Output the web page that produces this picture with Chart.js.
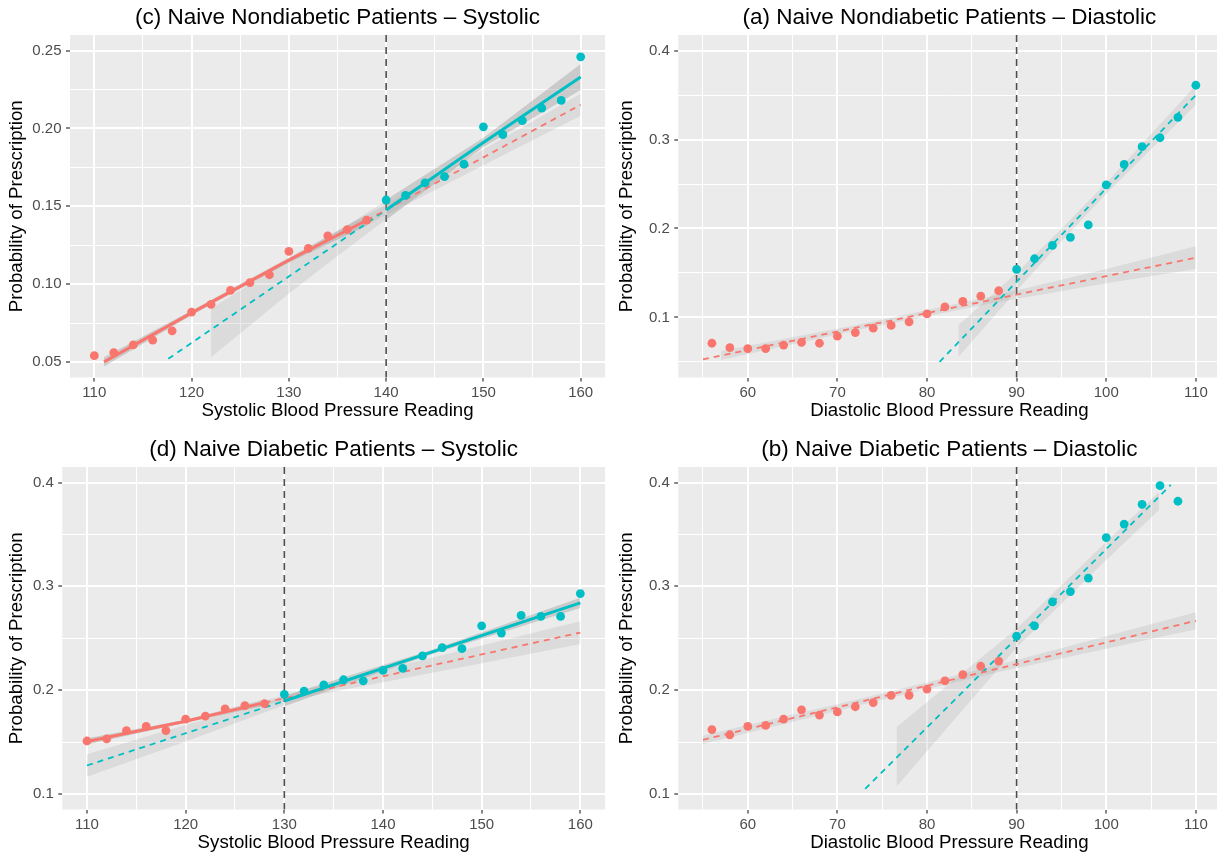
<!DOCTYPE html>
<html>
<head>
<meta charset="utf-8">
<script src="https://cdn.jsdelivr.net/npm/chart.js@4.4.1/dist/chart.umd.min.js"></script>
<style>
  html, body { margin: 0; padding: 0; background: #fff; }
  body { width: 1217px; height: 856px; overflow: hidden; position: relative; }
  canvas { position: absolute; }
</style>
</head>
<body>
<canvas id="chartC"></canvas>
<canvas id="chartA"></canvas>
<canvas id="chartD"></canvas>
<canvas id="chartB"></canvas>
<script>
// ---------- (c) Naive Nondiabetic Patients - Systolic ----------
const cTitle = '(c) Naive Nondiabetic Patients – Systolic';
const cXTitle = 'Systolic Blood Pressure Reading';
const cCutoff = 140;
const cXTicks = [110, 120, 130, 140, 150, 160];
const cXMinor = [115, 125, 135, 145, 155];
const cYTicks = [0.05, 0.10, 0.15, 0.20, 0.25];
const cYLabels = ['0.05', '0.10', '0.15', '0.20', '0.25'];
const cYMinor = [0.075, 0.125, 0.175, 0.225];
const cBelowX = [110, 112, 114, 116, 118, 120, 122, 124, 126, 128, 130, 132, 134, 136, 138];
const cBelowY = [0.054, 0.056, 0.061, 0.064, 0.070, 0.082, 0.087, 0.096, 0.101, 0.106, 0.121, 0.123, 0.131, 0.135, 0.141];
const cAboveX = [140, 142, 144, 146, 148, 150, 152, 154, 156, 158, 160];
const cAboveY = [0.154, 0.157, 0.165, 0.169, 0.177, 0.201, 0.196, 0.205, 0.213, 0.218, 0.246];
const cBelowFitX = [111, 120, 130, 138];
const cBelowFitY = [0.050, 0.0815, 0.1154, 0.141];
const cBelowFitLo = [0.047, 0.080, 0.1139, 0.1375];
const cBelowFitHi = [0.053, 0.083, 0.1169, 0.1445];
const cBelowExtX = [138, 150, 160];
const cBelowExtY = [0.141, 0.1814, 0.2152];
const cBelowExtLo = [0.138, 0.1764, 0.2082];
const cBelowExtHi = [0.144, 0.1864, 0.2222];
const cAboveFitX = [140, 150, 160];
const cAboveFitY = [0.1476, 0.1910, 0.2330];
const cAboveFitLo = [0.1411, 0.1880, 0.2247];
const cAboveFitHi = [0.1541, 0.1940, 0.2413];
const cAboveExtX = [117.6, 140];
const cAboveExtY = [0.052, 0.1476];
const cAboveBandX = [122, 130, 135, 140];
const cAboveBandLo = [0.053, 0.094, 0.118, 0.1416];
const cAboveBandHi = [0.0843, 0.1154, 0.134, 0.1536];

// ---------- (a) Naive Nondiabetic Patients - Diastolic ----------
const aTitle = '(a) Naive Nondiabetic Patients – Diastolic';
const aXTitle = 'Diastolic Blood Pressure Reading';
const aCutoff = 90;
const aXTicks = [60, 70, 80, 90, 100, 110];
const aXMinor = [55, 65, 75, 85, 95, 105];
const aYTicks = [0.1, 0.2, 0.3, 0.4];
const aYLabels = ['0.1', '0.2', '0.3', '0.4'];
const aYMinor = [0.05, 0.15, 0.25, 0.35];
const aBelowX = [56, 58, 60, 62, 64, 66, 68, 70, 72, 74, 76, 78, 80, 82, 84, 86, 88];
const aBelowY = [0.071, 0.066, 0.065, 0.065, 0.069, 0.072, 0.071, 0.079, 0.083, 0.088, 0.091, 0.095, 0.104, 0.112, 0.118, 0.124, 0.130];
const aAboveX = [90, 92, 94, 96, 98, 100, 102, 104, 106, 108, 110];
const aAboveY = [0.154, 0.166, 0.181, 0.190, 0.204, 0.249, 0.272, 0.292, 0.302, 0.325, 0.361];
const aBelowExtX = [55, 110];
const aBelowExtY = [0.053, 0.1672];
const aBelowBandX = [57, 72, 88, 100, 110];
const aBelowBandLo = [0.0522, 0.0853, 0.1175, 0.1384, 0.1544];
const aBelowBandHi = [0.0622, 0.0913, 0.1255, 0.1544, 0.1800];
const aAboveExtX = [81.4, 110];
const aAboveExtY = [0.050, 0.350];
const aAboveBandX = [83.5, 90, 95, 100, 110];
const aAboveBandLo = [0.0556, 0.1302, 0.1857, 0.2391, 0.339];
const aAboveBandHi = [0.0913, 0.1502, 0.1997, 0.2511, 0.361];

// ---------- (d) Naive Diabetic Patients - Systolic ----------
const dTitle = '(d) Naive Diabetic Patients – Systolic';
const dXTitle = 'Systolic Blood Pressure Reading';
const dCutoff = 130;
const dXTicks = [110, 120, 130, 140, 150, 160];
const dXMinor = [115, 125, 135, 145, 155];
const dYTicks = [0.1, 0.2, 0.3, 0.4];
const dYLabels = ['0.1', '0.2', '0.3', '0.4'];
const dYMinor = [0.15, 0.25, 0.35];
const dBelowX = [110, 112, 114, 116, 118, 120, 122, 124, 126, 128];
const dBelowY = [0.151, 0.153, 0.161, 0.165, 0.161, 0.172, 0.175, 0.182, 0.185, 0.187];
const dAboveX = [130, 132, 134, 136, 138, 140, 142, 144, 146, 148, 150, 152, 154, 156, 158, 160];
const dAboveY = [0.196, 0.199, 0.205, 0.210, 0.209, 0.219, 0.221, 0.233, 0.241, 0.240, 0.262, 0.255, 0.272, 0.271, 0.271, 0.293];
const dBelowFitX = [110, 120, 128];
const dBelowFitY = [0.1506, 0.1700, 0.188];
const dBelowFitLo = [0.1476, 0.1685, 0.185];
const dBelowFitHi = [0.1536, 0.1715, 0.191];
const dBelowExtX = [128, 160];
const dBelowExtY = [0.188, 0.2555];
const dBelowBandX = [128, 140, 150, 160];
const dBelowBandLo = [0.186, 0.2076, 0.226, 0.2445];
const dBelowBandHi = [0.190, 0.2196, 0.243, 0.2665];
const dAboveFitX = [130, 145, 160];
const dAboveFitY = [0.1895, 0.2368, 0.2841];
const dAboveFitLo = [0.1845, 0.2348, 0.2791];
const dAboveFitHi = [0.1945, 0.2388, 0.2891];
const dAboveExtX = [110, 130];
const dAboveExtY = [0.1274, 0.1895];
const dAboveBandX = [110, 120, 130];
const dAboveBandLo = [0.1166, 0.1505, 0.1855];
const dAboveBandHi = [0.1382, 0.1665, 0.1935];

// ---------- (b) Naive Diabetic Patients - Diastolic ----------
const bTitle = '(b) Naive Diabetic Patients – Diastolic';
const bXTitle = 'Diastolic Blood Pressure Reading';
const bCutoff = 90;
const bXTicks = [60, 70, 80, 90, 100, 110];
const bXMinor = [55, 65, 75, 85, 95, 105];
const bYTicks = [0.1, 0.2, 0.3, 0.4];
const bYLabels = ['0.1', '0.2', '0.3', '0.4'];
const bYMinor = [0.15, 0.25, 0.35];
const bBelowX = [56, 58, 60, 62, 64, 66, 68, 70, 72, 74, 76, 78, 80, 82, 84, 86, 88];
const bBelowY = [0.162, 0.157, 0.165, 0.166, 0.172, 0.181, 0.176, 0.179, 0.184, 0.188, 0.195, 0.195, 0.201, 0.209, 0.215, 0.223, 0.228];
const bAboveX = [90, 92, 94, 96, 98, 100, 102, 104, 106, 108];
const bAboveY = [0.252, 0.262, 0.285, 0.295, 0.308, 0.347, 0.360, 0.379, 0.397, 0.382];
const bBelowExtX = [55, 110];
const bBelowExtY = [0.1522, 0.2668];
const bBelowBandX = [55, 72, 88, 100, 110];
const bBelowBandLo = [0.1482, 0.1846, 0.2175, 0.2400, 0.2586];
const bBelowBandHi = [0.1562, 0.1906, 0.2245, 0.2520, 0.2750];
const bAboveExtX = [73.1, 107.2];
const bAboveExtY = [0.1049, 0.3977];
const bAboveBandX = [76.6, 90, 100, 105.9];
const bAboveBandLo = [0.1071, 0.2411, 0.3253, 0.3736];
const bAboveBandHi = [0.1644, 0.2591, 0.3430, 0.3910];

const RED = '#F8766D';
const CYAN = '#00BFC4';
const FONT = "'Liberation Sans', Arial, Helvetica, sans-serif";
const BAND_DARK = 'rgba(153,153,153,0.4)';
const BAND_LIGHT = 'rgba(153,153,153,0.2)';

function pts(xs, ys) {
  return xs.map((x, i) => ({ x: x, y: ys[i] }));
}

function band(xs, lo, hi, color) {
  return [
    { data: pts(xs, hi), showLine: true, pointRadius: 0, borderWidth: 0,
      borderColor: 'rgba(0,0,0,0)', backgroundColor: color, fill: '+1', order: 3 },
    { data: pts(xs, lo), showLine: true, pointRadius: 0, borderWidth: 0,
      borderColor: 'rgba(0,0,0,0)', fill: false, order: 3 }
  ];
}

function line(xs, ys, color, dashed) {
  return {
    data: pts(xs, ys), showLine: true, pointRadius: 0, fill: false,
    borderColor: color, borderWidth: dashed ? 1.8 : 3,
    borderDash: dashed ? [6, 5] : [], order: dashed ? 2 : 1
  };
}

function points(xs, ys, color) {
  return { data: pts(xs, ys), showLine: false, pointRadius: 4.4, pointHoverRadius: 4.4,
    pointBorderWidth: 0, backgroundColor: color, borderColor: color, order: 0 };
}

function makeTicks(major, labels, minor) {
  const t = major.map((v, i) => ({ value: v, lbl: labels[i], minor: false }));
  minor.forEach(v => t.push({ value: v, lbl: '', minor: true }));
  return t.sort((p, q) => p.value - q.value);
}

const panelBg = {
  id: 'panelBg',
  beforeDraw(chart) {
    const a = chart.chartArea;
    const ctx = chart.ctx;
    ctx.save();
    ctx.fillStyle = '#EBEBEB';
    ctx.fillRect(a.left, a.top, a.right - a.left, a.bottom - a.top);
    ctx.restore();
  }
};

const cutoffLine = {
  id: 'cutoffLine',
  beforeDatasetsDraw(chart, args, opts) {
    const a = chart.chartArea;
    const ctx = chart.ctx;
    const px = chart.scales.x.getPixelForValue(opts.value);
    ctx.save();
    ctx.strokeStyle = '#4D4D4D';
    ctx.lineWidth = 1.6;
    ctx.setLineDash([7, 5]);
    ctx.beginPath();
    ctx.moveTo(px, a.top);
    ctx.lineTo(px, a.bottom);
    ctx.stroke();
    ctx.restore();
  }
};

function axis(min, max, ticks, pad, extra) {
  return Object.assign({
    type: 'linear', min: min, max: max,
    afterBuildTicks: s => { s.ticks = ticks.map(t => Object.assign({}, t)); },
    grid: {
      color: '#FFFFFF',
      lineWidth: c => (c.tick && c.tick.minor ? 1 : 2),
      drawTicks: true,
      tickLength: 4,
      tickWidth: 1.2,
      tickColor: c => (c.tick && c.tick.minor ? 'rgba(0,0,0,0)' : '#333333')
    },
    border: { display: false },
    ticks: {
      autoSkip: false, maxRotation: 0, padding: pad,
      color: '#4D4D4D', font: { family: FONT, size: 15 },
      callback: (v, i, arr) => arr[i].lbl
    }
  }, extra);
}

function panel(id, p) {
  const cv = document.getElementById(id);
  cv.width = p.w; cv.height = p.h;
  cv.style.left = p.left + 'px'; cv.style.top = p.top + 'px';
  cv.style.width = p.w + 'px'; cv.style.height = p.h + 'px';
  new Chart(cv, {
    type: 'scatter',
    data: { datasets: p.datasets },
    options: {
      responsive: false, animation: false, devicePixelRatio: 1,
      layout: { padding: { left: 0, right: p.padRight, top: 0, bottom: 0 } },
      plugins: {
        legend: { display: false }, tooltip: { enabled: false },
        title: {
          display: true, text: p.title, fullSize: false, color: '#000000',
          font: { family: FONT, size: 22.5, weight: 'normal' },
          padding: { top: 4.5, bottom: 3.5 }
        },
        cutoffLine: { value: p.cutoff }
      },
      scales: {
        x: axis(p.xMin, p.xMax, p.xTicks, 2, {
          afterFit: s => { s.height = 50.5; },
          title: { display: true, text: p.xTitle, color: '#000000',
            font: { family: FONT, size: 18.7 }, padding: { top: 0, bottom: 5.5 } }
        }),
        y: axis(p.yMin, p.yMax, p.yTicks, 4.5, {
          afterFit: s => { s.width = p.yAxisW; },
          title: { display: true, text: 'Probability of Prescription', color: '#000000',
            font: { family: FONT, size: 18.7 }, padding: { top: 5.8, bottom: 0 } }
        })
      }
    },
    plugins: [panelBg, cutoffLine]
  });
}

Chart.defaults.datasets.scatter.clip = 0;

panel('chartC', {
  left: 0, top: 0, w: 610, h: 428, yAxisW: 70, padRight: 5,
  title: cTitle, xTitle: cXTitle, cutoff: cCutoff,
  xMin: 107.5, xMax: 162.5, yMin: 0.04, yMax: 0.26,
  xTicks: makeTicks(cXTicks, cXTicks.map(String), cXMinor),
  yTicks: makeTicks(cYTicks, cYLabels, cYMinor),
  datasets: [
    points(cBelowX, cBelowY, RED),
    points(cAboveX, cAboveY, CYAN),
    line(cBelowFitX, cBelowFitY, RED, false),
    line(cAboveFitX, cAboveFitY, CYAN, false),
    line(cBelowExtX, cBelowExtY, RED, true),
    line(cAboveExtX, cAboveExtY, CYAN, true),
    ...band(cBelowFitX, cBelowFitLo, cBelowFitHi, BAND_DARK),
    ...band(cAboveFitX, cAboveFitLo, cAboveFitHi, BAND_DARK),
    ...band(cBelowExtX, cBelowExtLo, cBelowExtHi, BAND_LIGHT),
    ...band(cAboveBandX, cAboveBandLo, cAboveBandHi, BAND_LIGHT)
  ]
});

panel('chartA', {
  left: 610, top: 0, w: 615, h: 428, yAxisW: 68.3, padRight: 4.5,
  title: aTitle, xTitle: aXTitle, cutoff: aCutoff,
  xMin: 52.25, xMax: 112.75, yMin: 0.0325, yMax: 0.4175,
  xTicks: makeTicks(aXTicks, aXTicks.map(String), aXMinor),
  yTicks: makeTicks(aYTicks, aYLabels, aYMinor),
  datasets: [
    points(aBelowX, aBelowY, RED),
    points(aAboveX, aAboveY, CYAN),
    line(aBelowExtX, aBelowExtY, RED, true),
    line(aAboveExtX, aAboveExtY, CYAN, true),
    ...band(aBelowBandX, aBelowBandLo, aBelowBandHi, BAND_LIGHT),
    ...band(aAboveBandX, aAboveBandLo, aAboveBandHi, BAND_LIGHT)
  ]
});

panel('chartD', {
  left: 0, top: 432, w: 610, h: 428, yAxisW: 62.3, padRight: 5,
  title: dTitle, xTitle: dXTitle, cutoff: dCutoff,
  xMin: 107.5, xMax: 162.5, yMin: 0.085, yMax: 0.415,
  xTicks: makeTicks(dXTicks, dXTicks.map(String), dXMinor),
  yTicks: makeTicks(dYTicks, dYLabels, dYMinor),
  datasets: [
    points(dBelowX, dBelowY, RED),
    points(dAboveX, dAboveY, CYAN),
    line(dBelowFitX, dBelowFitY, RED, false),
    line(dAboveFitX, dAboveFitY, CYAN, false),
    line(dBelowExtX, dBelowExtY, RED, true),
    line(dAboveExtX, dAboveExtY, CYAN, true),
    ...band(dBelowFitX, dBelowFitLo, dBelowFitHi, BAND_DARK),
    ...band(dAboveFitX, dAboveFitLo, dAboveFitHi, BAND_DARK),
    ...band(dBelowBandX, dBelowBandLo, dBelowBandHi, BAND_LIGHT),
    ...band(dAboveBandX, dAboveBandLo, dAboveBandHi, BAND_LIGHT)
  ]
});

panel('chartB', {
  left: 610, top: 432, w: 615, h: 428, yAxisW: 68.3, padRight: 4.5,
  title: bTitle, xTitle: bXTitle, cutoff: bCutoff,
  xMin: 52.25, xMax: 112.75, yMin: 0.085, yMax: 0.415,
  xTicks: makeTicks(bXTicks, bXTicks.map(String), bXMinor),
  yTicks: makeTicks(bYTicks, bYLabels, bYMinor),
  datasets: [
    points(bBelowX, bBelowY, RED),
    points(bAboveX, bAboveY, CYAN),
    line(bBelowExtX, bBelowExtY, RED, true),
    line(bAboveExtX, bAboveExtY, CYAN, true),
    ...band(bBelowBandX, bBelowBandLo, bBelowBandHi, BAND_LIGHT),
    ...band(bAboveBandX, bAboveBandLo, bAboveBandHi, BAND_LIGHT)
  ]
});
</script>
</body>
</html>
